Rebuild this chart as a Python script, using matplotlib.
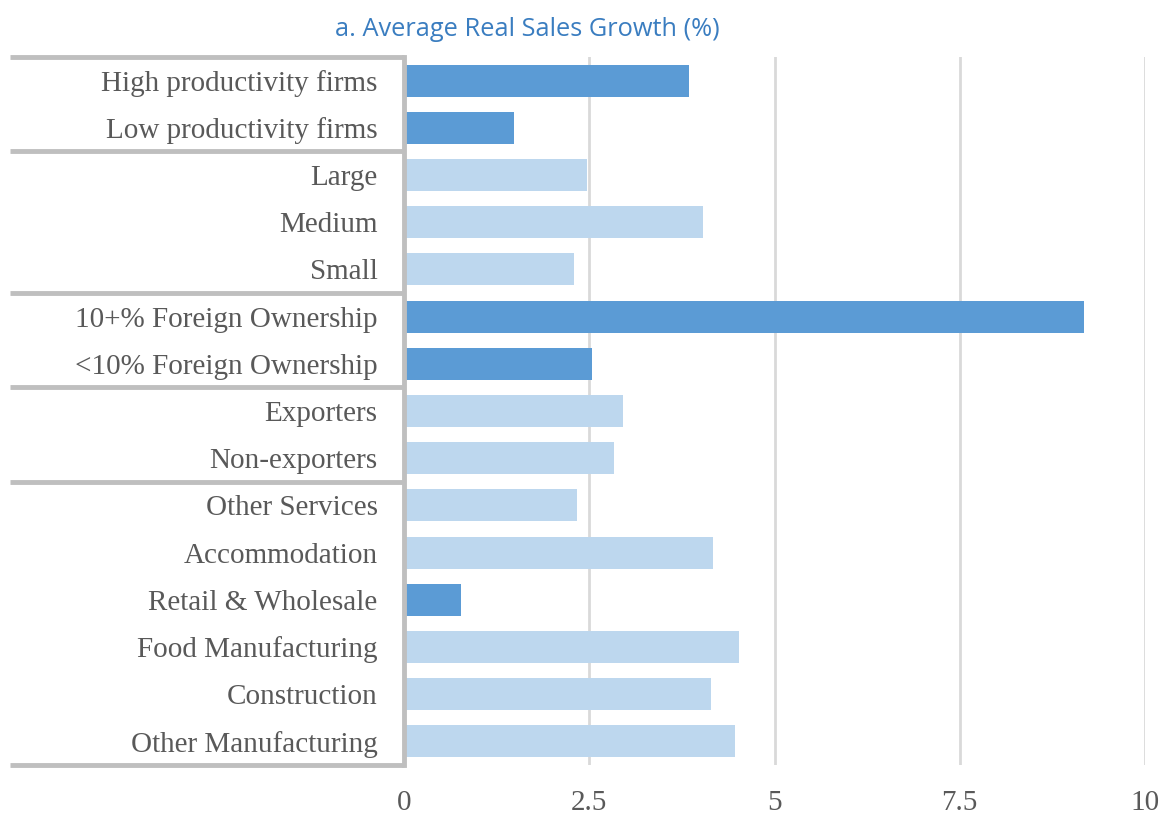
import matplotlib.pyplot as plt
import matplotlib.transforms as mtransforms
import numpy as np

# categories, top to bottom
categories = ['High productivity firms', 'Low productivity firms',
              'Large', 'Medium', 'Small',
              '10+% Foreign Ownership', '<10% Foreign Ownership',
              'Exporters', 'Non-exporters',
              'Other Services', 'Accommodation', 'Retail & Wholesale',
              'Food Manufacturing', 'Construction', 'Other Manufacturing']
growth = [3.85, 1.48, 2.47, 4.04, 2.29, 9.18, 2.54, 2.95, 2.84,
          2.34, 4.17, 0.77, 4.52, 4.14, 4.46]
highlight = [True, True, False, False, False, True, True, False, False,
             False, False, True, False, False, False]
# index after which each group ends
group_ends = [2, 5, 7, 9]
x_ticks = [0, 2.5, 5, 7.5, 10]
x_tick_labels = ['0', '2.5', '5', '7.5', '10']

dark = '#5B9BD5'
light = '#BDD7EE'
frame_grey = '#BFBFBF'
text_grey = '#595959'

fig = plt.figure(figsize=(11.6, 8.14), dpi=100)
ax = fig.add_axes([0.3483, 0.0602, 0.6388, 0.8698])

y = np.arange(len(categories))
colors = [dark if h else light for h in highlight]
ax.barh(y, growth, height=0.68, color=colors, zorder=3)

ax.set_xlim(0, 10)
ax.set_ylim(len(categories) - 0.5, -0.5)
ax.set_xticks(x_ticks)
ax.set_xticklabels(x_tick_labels)
ax.set_yticks(y)
ax.set_yticklabels(categories)
ax.tick_params(axis='both', length=0, labelsize=21, labelcolor=text_grey)
ax.tick_params(axis='y', pad=19)
ax.tick_params(axis='x', pad=18)
for lab in ax.get_xticklabels() + ax.get_yticklabels():
    lab.set_fontfamily('Liberation Serif')

ax.grid(axis='x', color='#D9D9D9', linewidth=2, zorder=0)
for side in ['top', 'right', 'bottom']:
    ax.spines[side].set_visible(False)
ax.spines['left'].set_color(frame_grey)
ax.spines['left'].set_linewidth(3.5)
ax.spines['left'].set_zorder(4)

# horizontal separators between category groups
trans = mtransforms.blended_transform_factory(ax.transAxes, ax.transData)
for b in [0] + group_ends + [len(categories)]:
    ax.plot([-0.532, 0], [b - 0.5, b - 0.5], color=frame_grey, linewidth=3.5,
            transform=trans, clip_on=False, solid_capstyle='butt', zorder=4)

fig.text(0.455, 0.964, 'a. Average Real Sales Growth (%)', ha='center', va='center',
         fontsize=18.3, color='#3A7DC0', fontfamily='Open Sans')

fig.savefig('out.png', dpi=100, facecolor='white')
